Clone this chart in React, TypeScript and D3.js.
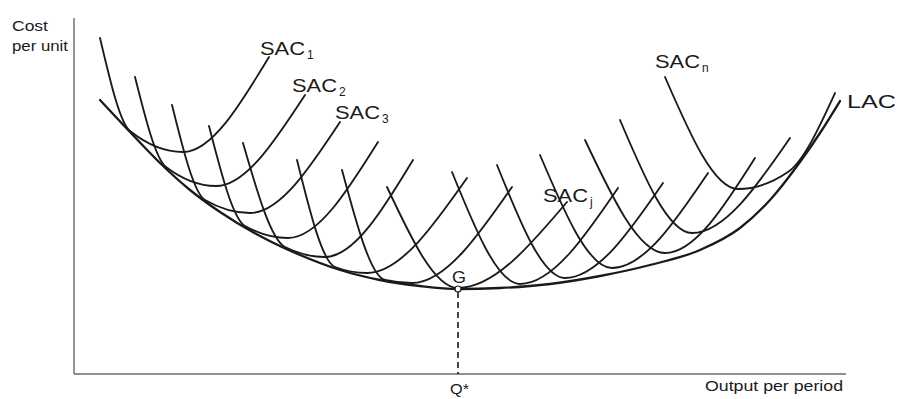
import React from 'react'
import * as d3 from 'd3'

// chart units: output 0..386 along x, cost per unit 0..178 along y
const lacCurve: [number, number][] = [
  [13, 137], [28, 121], [43, 105.5], [58, 92], [73, 81], [93, 69], [113, 59.5],
  [133, 52], [153, 47], [173, 44], [192, 42.5], [213, 43], [238, 45], [263, 49],
  [288, 54.5], [313, 62], [333, 73], [348, 87], [363, 106], [373, 120.5], [383, 136.5],
]

// short-run average cost curves, left to right (SAC1 ... SACn)
const sacCurves: [number, number][][] = [
  [[13, 168], [28, 121.5], [54.5, 111], [97.5, 158.5]],
  [[30.5, 148.5], [46, 103.5], [71, 94], [115.5, 139.5]],
  [[49, 134.5], [65.5, 87], [88, 80.5], [133, 126]],
  [[67.5, 124], [85.5, 74], [107, 68], [152, 116]],
  [[84.5, 115.5], [105.5, 63.5], [125.5, 58.5], [169.5, 107]],
  [[111.5, 107], [130.5, 53.5], [146.5, 50.5], [196.5, 98]],
  [[134, 102], [155.5, 47], [169, 45.5], [219, 93.5]],
  [[156.5, 93.5], [192, 43], [246.5, 86]],
  [[189, 101], [223, 45], [272, 93]],
  [[211.5, 104.5], [245.5, 48], [294.5, 95.5]],
  [[233, 109.5], [269, 53], [317, 100.5]],
  [[255.5, 117], [295.5, 60.5], [340.5, 108]],
  [[273, 127], [309, 70.5], [358, 118]],
  [[295.5, 148.5], [332, 92.5], [357, 101], [380.5, 140.5]],
]

const sacSubscripts = ['1', '2', '3', 'j', 'n']
const minPoint: [number, number] = [192, 42.5]
const axisLabels = ['Cost', 'per unit', 'Output per period']
const pointLabels = ['G', 'Q*', 'LAC']

const width = 897
const height = 399
const font = '"Liberation Sans", Arial, Helvetica, sans-serif'
const ink = '#1a1a1a'

function SacLabel({ x, y, sub }: { x: number; y: number; sub: string }) {
  return (
    <g fill={ink} fontFamily={font}>
      <text x={x} y={y} fontSize={18} textLength={45} lengthAdjust="spacingAndGlyphs">
        SAC
      </text>
      <text x={x + 47} y={y + 4} fontSize={12}>
        {sub}
      </text>
    </g>
  )
}

export default function App() {
  const x = d3.scaleLinear().domain([0, 386]).range([74, 846])
  const y = d3.scaleLinear().domain([0, 178]).range([374, 18])

  const line = d3
    .line<[number, number]>()
    .x((d) => x(d[0]))
    .y((d) => y(d[1]))
    .curve(d3.curveMonotoneX)

  const first = (c: [number, number][]) => c[0]
  const last = (c: [number, number][]) => c[c.length - 1]

  const r1 = last(sacCurves[0])
  const r2 = last(sacCurves[1])
  const r3 = last(sacCurves[2])
  const rj = last(sacCurves[7])
  const ln = first(sacCurves[13])
  const lacEnd = last(lacCurve)

  const gx = x(minPoint[0])
  const gy = y(minPoint[1])

  return (
    <svg
      width={width}
      height={height}
      style={{ position: 'absolute', left: 0, top: 0, background: '#fff', display: 'block' }}
    >
      {/* axes */}
      <g stroke="#6a6a6a" strokeWidth={1.4} fill="none">
        <line x1={x(0)} y1={y(178)} x2={x(0)} y2={y(0)} />
        <line x1={x(0)} y1={y(0)} x2={x(386)} y2={y(0)} />
      </g>

      {/* dashed drop line from G */}
      <line
        x1={gx}
        y1={gy + 3}
        x2={gx}
        y2={y(0)}
        stroke={ink}
        strokeWidth={1.6}
        strokeDasharray="6,4"
      />

      {/* SAC curves */}
      <g fill="none" stroke={ink} strokeWidth={1.85} strokeLinecap="round">
        {sacCurves.map((c, i) => (
          <path key={i} d={line(c) ?? ''} />
        ))}
      </g>

      {/* LAC envelope */}
      <path d={line(lacCurve) ?? ''} fill="none" stroke={ink} strokeWidth={2.3} strokeLinecap="round" />

      <circle cx={gx} cy={gy} r={3} fill="#fff" stroke={ink} strokeWidth={1.2} />

      {/* labels */}
      <g fill={ink} fontFamily={font}>
        <text x={12} y={31} fontSize={14} textLength={36} lengthAdjust="spacingAndGlyphs">
          {axisLabels[0]}
        </text>
        <text x={12} y={51} fontSize={14} textLength={56} lengthAdjust="spacingAndGlyphs">
          {axisLabels[1]}
        </text>
        <text x={705} y={391} fontSize={14} textLength={138} lengthAdjust="spacingAndGlyphs">
          {axisLabels[2]}
        </text>
        <text x={gx - 6} y={gy - 6} fontSize={16} textLength={14} lengthAdjust="spacingAndGlyphs">
          {pointLabels[0]}
        </text>
        <text x={gx - 8} y={394} fontSize={15} textLength={19} lengthAdjust="spacingAndGlyphs">
          {pointLabels[1]}
        </text>
        <text
          x={x(lacEnd[0]) + 7}
          y={y(lacEnd[1]) + 7}
          fontSize={18}
          textLength={49}
          lengthAdjust="spacingAndGlyphs"
        >
          {pointLabels[2]}
        </text>
      </g>

      <SacLabel x={x(r1[0]) - 9} y={y(r1[1]) - 2} sub={sacSubscripts[0]} />
      <SacLabel x={x(r2[0]) - 13} y={y(r2[1]) - 3} sub={sacSubscripts[1]} />
      <SacLabel x={x(r3[0]) - 5} y={y(r3[1]) - 3} sub={sacSubscripts[2]} />
      <SacLabel x={x(rj[0]) - 24} y={y(rj[1])} sub={sacSubscripts[3]} />
      <SacLabel x={x(ln[0]) - 10} y={y(ln[1]) - 9} sub={sacSubscripts[4]} />
    </svg>
  )
}
